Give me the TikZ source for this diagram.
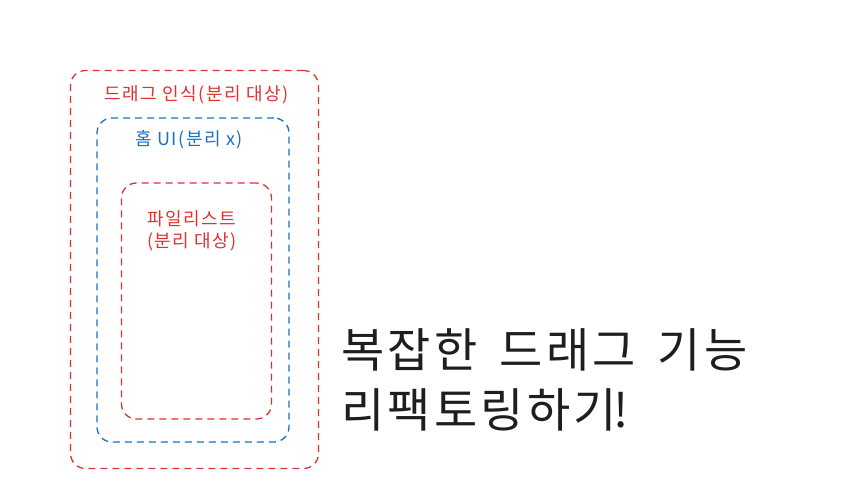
\documentclass[tikz,border=0pt]{standalone}
\usepackage{fontspec}
\newfontfamily\kr[LetterSpace=8]{Noto Sans CJK KR}
\newfontfamily\krhead[LetterSpace=7]{Noto Sans CJK KR}
\usetikzlibrary{positioning}
\definecolor{exred}{HTML}{E03131}
\definecolor{exblue}{HTML}{1971C2}
\definecolor{exink}{HTML}{1E1E1E}
\begin{document}
\begin{tikzpicture}[x=1pt,y=-1pt,
	frame/.style={draw,dash pattern=on 7pt off 5pt,line width=1.3pt,rounded corners=15pt,inner sep=0pt},
	tag/.style={font=\kr\fontsize{18}{22}\selectfont,align=center},
	headline/.style={font=\krhead\fontsize{47}{60}\selectfont,text=exink,anchor=west,inner sep=0pt}]
\useasboundingbox (0,0) rectangle (858,498);
% boxes
\node[frame,color=exred,minimum width=248pt,minimum height=398pt] (drag) at (194.5,269.5) {};
\node[frame,color=exblue,minimum width=192pt,minimum height=324pt] (home) at (193,280) {};
\node[frame,color=exred,minimum width=150pt,minimum height=236pt] (files) at (196.5,301) {};
% labels
\node[tag,text=exred] (dragtag) at (196.5,95) {드래그 인식(분리 대상)};
\node[tag,text=exblue] (hometag) at (189,140) {홈 UI(분리 x)};
\node[tag,text=exred] (filestag) at (192,231) {파일리스트\\(분리 대상)};
% title
\node[headline] (title) at (341,350) {복잡한\hspace{22pt}드래그\hspace{22pt}기능};
\node[headline] (subtitle) at (341,410) {리팩토링하기\hspace{-4pt}!};
\end{tikzpicture}
\end{document}
